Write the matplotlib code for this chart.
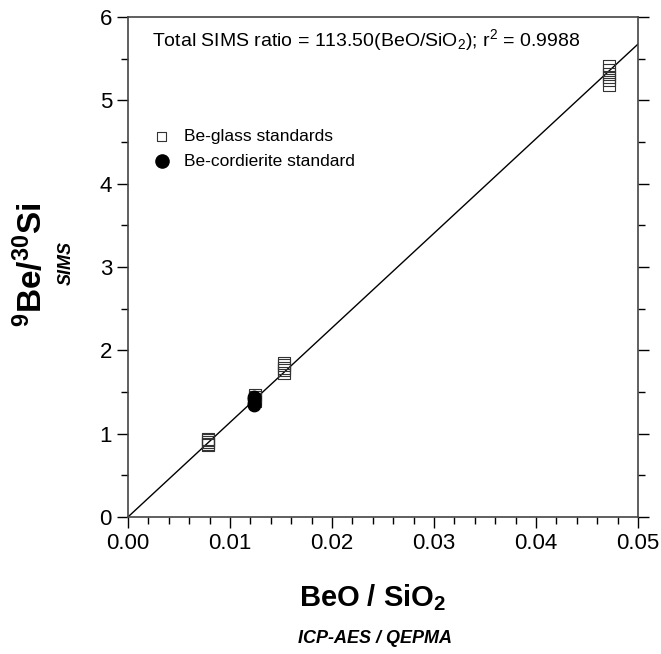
import matplotlib.pyplot as plt
from matplotlib.ticker import MultipleLocator

plt.rcParams['font.family'] = ['Liberation Sans', 'DejaVu Sans']
plt.rcParams['mathtext.fontset'] = 'custom'
plt.rcParams['mathtext.rm'] = 'Liberation Sans'
plt.rcParams['mathtext.it'] = 'Liberation Sans:italic'
plt.rcParams['mathtext.bf'] = 'Liberation Sans:bold'

# Be-glass standards (BeO/SiO2, 9Be/30Si)
vidrio_x = [0.0078, 0.0078, 0.0078, 0.0078, 0.0078,
            0.0125, 0.0125, 0.0125, 0.0125,
            0.0153, 0.0153, 0.0153, 0.0153, 0.0153,
            0.0472, 0.0472, 0.0472, 0.0472, 0.0472, 0.0472]
vidrio_y = [0.86, 0.88, 0.90, 0.92, 0.94,
            1.39, 1.42, 1.44, 1.46,
            1.73, 1.76, 1.79, 1.82, 1.85,
            5.19, 5.24, 5.28, 5.32, 5.36, 5.41]

# Be-cordierite standard
cord_x = [0.0124, 0.0124, 0.0124, 0.0124]
cord_y = [1.34, 1.37, 1.41, 1.44]

pendiente = 113.50
linea_x = [0.0, 0.05]

fig = plt.figure(figsize=(6.61, 6.54), dpi=100)
ax = fig.add_axes([0.1936, 0.2095, 0.7716, 0.7645])

ax.plot(linea_x, [pendiente * v for v in linea_x], color='black', lw=1)
ax.scatter(vidrio_x, vidrio_y, marker='s', s=75, facecolors='none',
           edgecolors='#333333', linewidths=0.8, zorder=3)
ax.scatter(cord_x, cord_y, marker='o', s=80, color='black', zorder=4)

ax.set_xlim(0, 0.05)
ax.set_ylim(0, 6)
ax.xaxis.set_major_locator(MultipleLocator(0.01))
ax.xaxis.set_minor_locator(MultipleLocator(0.002))
ax.yaxis.set_major_locator(MultipleLocator(1))
ax.yaxis.set_minor_locator(MultipleLocator(0.5))
ax.xaxis.set_major_formatter(plt.FormatStrFormatter('%.2f'))
ax.tick_params(which='both', direction='out', right=True, top=False,
               labelsize=16, width=1)
ax.tick_params(which='major', length=8)
ax.tick_params(which='minor', length=5)
for s in ax.spines.values():
    s.set_linewidth(1.2)
    s.set_color('#444444')

# Leyenda manual
ax.scatter([0.0033], [4.57], marker='s', s=40, facecolors='none',
           edgecolors='#333333', linewidths=0.8)
ax.scatter([0.0033], [4.27], marker='o', s=90, color='black')
ax.text(0.0055, 4.57, 'Be-glass standards', fontsize=12.5, va='center')
ax.text(0.0055, 4.27, 'Be-cordierite standard', fontsize=12.5, va='center')

ax.text(0.0024, 5.72, 'Total SIMS ratio = 113.50(BeO/SiO$_2$); r$^2$ = 0.9988',
        fontsize=14, va='center')

fig.text(0.048, 0.595, '$\\mathbf{^{9}Be/^{30}Si}$', rotation=90, fontsize=24,
         ha='center', va='center')
fig.text(0.100, 0.598, 'SIMS', rotation=90, fontsize=13, fontweight='bold',
         fontstyle='italic', ha='center', va='center')
fig.text(0.563, 0.087, 'BeO / SiO$_\\mathbf{2}$', fontsize=21, fontweight='bold',
         ha='center', va='center')
fig.text(0.567, 0.024, 'ICP-AES / QEPMA', fontsize=13, fontweight='bold',
         fontstyle='italic', ha='center', va='center')

plt.savefig('out.png', dpi=100)
plt.close()
